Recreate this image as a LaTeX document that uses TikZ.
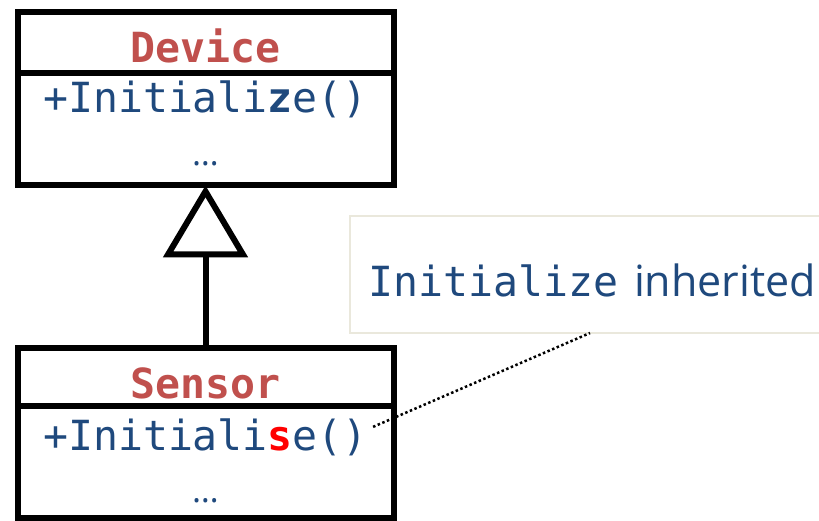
\documentclass[tikz,border=0pt]{standalone}
\usepackage{fontspec}
\setmonofont{DejaVu Sans Mono}
\setsansfont{Open Sans}
\usetikzlibrary{arrows.meta,positioning}
\definecolor{umlred}{RGB}{192,80,77}
\definecolor{umlblue}{RGB}{31,73,125}
\definecolor{noteline}{RGB}{234,232,220}
\tikzset{
  cls/.style={draw, line width=6pt, minimum width=376pt, outer sep=0pt, inner sep=0pt},
  clsname/.style={font=\ttfamily\bfseries\fontsize{41.5}{48}\selectfont, text=umlred, anchor=base, inner sep=0pt},
  member/.style={font=\ttfamily\fontsize{41.5}{48}\selectfont, text=umlblue, anchor=base, inner sep=0pt},
  dots/.style={font=\sffamily\fontsize{34}{40}\selectfont, text=umlblue, anchor=base, inner sep=0pt},
}
\begin{document}
\begin{tikzpicture}[x=1pt, y=-1pt]
  \useasboundingbox (0,0) rectangle (819,521);
  % Device 클래스
  \node[cls, minimum height=61.5pt] (devhead) at (205.5,42.75) {};
  \node[cls, minimum height=112pt, below=0pt of devhead] (devbody) {};
  \node[clsname] (devname) at (205.5,62.7) {Device};
  \node[member] (devinit) at (205.5,113) {+Initiali\textbf{z}e()};
  \node[dots] (devmore) at (205.5,166) {…};
  % Sensor 클래스
  \node[cls, minimum height=58pt] (senhead) at (205.5,377) {};
  \node[cls, minimum height=112pt, below=0pt of senhead] (senbody) {};
  \node[clsname] (senname) at (205.5,398) {Sensor};
  \node[member] (seninit) at (205.5,450) {+Initiali\textcolor{red}{\textbf{s}}e()};
  \node[dots] (senmore) at (205.5,502) {…};
  % 상속 화살표
  \draw[line width=6pt, -{Triangle[open, length=72pt, width=84pt]}] (senhead.north) -- (devbody.south);
  % 메모
  \node[draw=noteline, line width=2pt, fill=white, minimum width=480pt, minimum height=117pt, outer sep=0pt] (note) at (590,274.5) {};
  \node[member, anchor=base west] (notetext) at (368,297) {Initialize\hspace{16pt}{\sffamily\fontsize{43}{48}\selectfont inherited}};
  \draw[line width=2.5pt, dash pattern=on 2.5pt off 2.5pt] ([xshift=5pt, yshift=10pt]seninit.east) -- (note.south);
\end{tikzpicture}
\end{document}
